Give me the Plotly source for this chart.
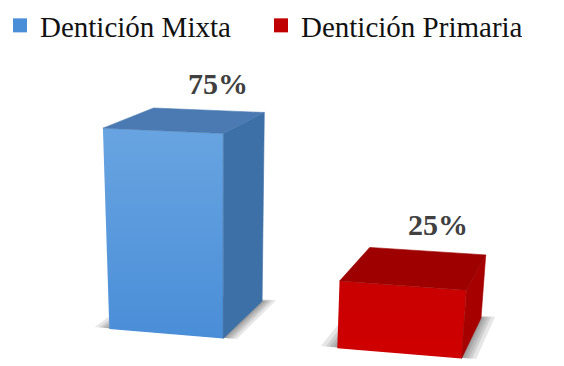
import numpy as np
import plotly.graph_objects as go

# ---- data ----
categories = ["Dentición Mixta", "Dentición Primaria"]
values = [75, 25]
value_labels = ["75%", "25%"]

# ---- styling ----
front_top = ["#68a4e1", "#c90000"]
front_bottom = ["#4a8ed8", "#cf0000"]
side_colors = ["#3e70a8", "#a60000"]
top_colors = ["#4a7ab1", "#9e0000"]
legend_colors = ["#4a8ed8", "#c00000"]
FONT = "Liberation Serif"

W, H = 564, 366

# ---- simple perspective camera for the 3-D columns ----
CAT_STEP = 0.98      # distance between column centres
BAR_W = 0.5          # column width
BAR_D = 0.62         # column depth
HEIGHT_PER_UNIT = 0.011
CAM = np.array([1.86, 1.667, -5.467])
YAW = np.radians(16.5)
PITCH = np.radians(-23.5)
FOCAL = 1429.0
PP = (221.0, 519.0)

cy, sy = np.cos(YAW), np.sin(YAW)
cp, sp = np.cos(PITCH), np.sin(PITCH)
ROT = np.array([[1, 0, 0], [0, cp, -sp], [0, sp, cp]]) @ np.array(
    [[cy, 0, sy], [0, 1, 0], [-sy, 0, cy]]
)


def project(pts):
    q = (ROT @ (np.asarray(pts, float) - CAM).T).T
    px = PP[0] + FOCAL * q[:, 0] / q[:, 2]
    py = PP[1] - FOCAL * q[:, 1] / q[:, 2]
    return px, py


def poly(pts):
    px, py = project(pts)
    return list(px) + [px[0]], list(py) + [py[0]]


fig = go.Figure()

# soft floor shadows, spreading mostly sideways from the base
for i, v in enumerate(values):
    xc = i * CAT_STEP
    x0, x1 = xc - BAR_W / 2, xc + BAR_W / 2
    for e in [0.07, 0.05, 0.035, 0.02, 0.008]:
        sh = [
            (x0 - e, 0, 0.01),
            (x1 + e * 0.8, 0, 0.01),
            (x1 + e * 0.8, 0, BAR_D + e * 0.5),
            (x0 - e, 0, BAR_D + e * 0.5),
        ]
        xs, ys = poly(sh)
        fig.add_trace(go.Scatter(
            x=xs, y=ys, mode="lines", fill="toself",
            fillcolor="rgba(30,30,30,0.11)", line=dict(width=0),
            hoverinfo="skip", showlegend=False,
        ))

# columns: front, side and top faces
for i, v in enumerate(values):
    h = v * HEIGHT_PER_UNIT
    xc = i * CAT_STEP
    x0, x1 = xc - BAR_W / 2, xc + BAR_W / 2
    front = [(x0, 0, 0), (x1, 0, 0), (x1, h, 0), (x0, h, 0)]
    side = [(x1, 0, 0), (x1, 0, BAR_D), (x1, h, BAR_D), (x1, h, 0)]
    top = [(x0, h, 0), (x1, h, 0), (x1, h, BAR_D), (x0, h, BAR_D)]

    fx, fy = poly(front)
    fig.add_trace(go.Scatter(
        x=fx, y=fy, mode="lines", fill="toself",
        fillgradient=dict(
            type="vertical",
            colorscale=[[0, front_top[i]], [1, front_bottom[i]]],
            start=min(fy), stop=max(fy),
        ),
        line=dict(width=0), hoverinfo="skip", showlegend=False,
    ))
    for face, col in ((side, side_colors[i]), (top, top_colors[i])):
        xs, ys = poly(face)
        fig.add_trace(go.Scatter(
            x=xs, y=ys, mode="lines", fill="toself", fillcolor=col,
            line=dict(width=0.6, color=col), hoverinfo="skip", showlegend=False,
        ))

    # value label above the column
    lx, ly = project([(xc + 0.045, h, BAR_D)])
    fig.add_annotation(
        x=lx[0], y=ly[0], text=f"<b>{value_labels[i]}</b>", showarrow=False,
        yshift=27, font=dict(family=FONT, size=30, color="#404040"),
    )

# legend entries
for name, col in zip(categories, legend_colors):
    fig.add_trace(go.Scatter(
        x=[None], y=[None], mode="markers", name=name,
        marker=dict(symbol="square", size=14, color=col),
    ))

fig.update_layout(
    width=W, height=H,
    margin=dict(l=0, r=0, t=0, b=0),
    paper_bgcolor="white", plot_bgcolor="white",
    xaxis=dict(range=[0, W], visible=False, fixedrange=True),
    yaxis=dict(range=[H, 0], visible=False, fixedrange=True),
    showlegend=True,
    legend=dict(
        orientation="h", x=0, y=1, xanchor="left", yanchor="top",
        font=dict(family=FONT, size=29, color="#111111"),
        entrywidth=216, bgcolor="rgba(0,0,0,0)",
    ),
)

fig.write_html("out.html")
